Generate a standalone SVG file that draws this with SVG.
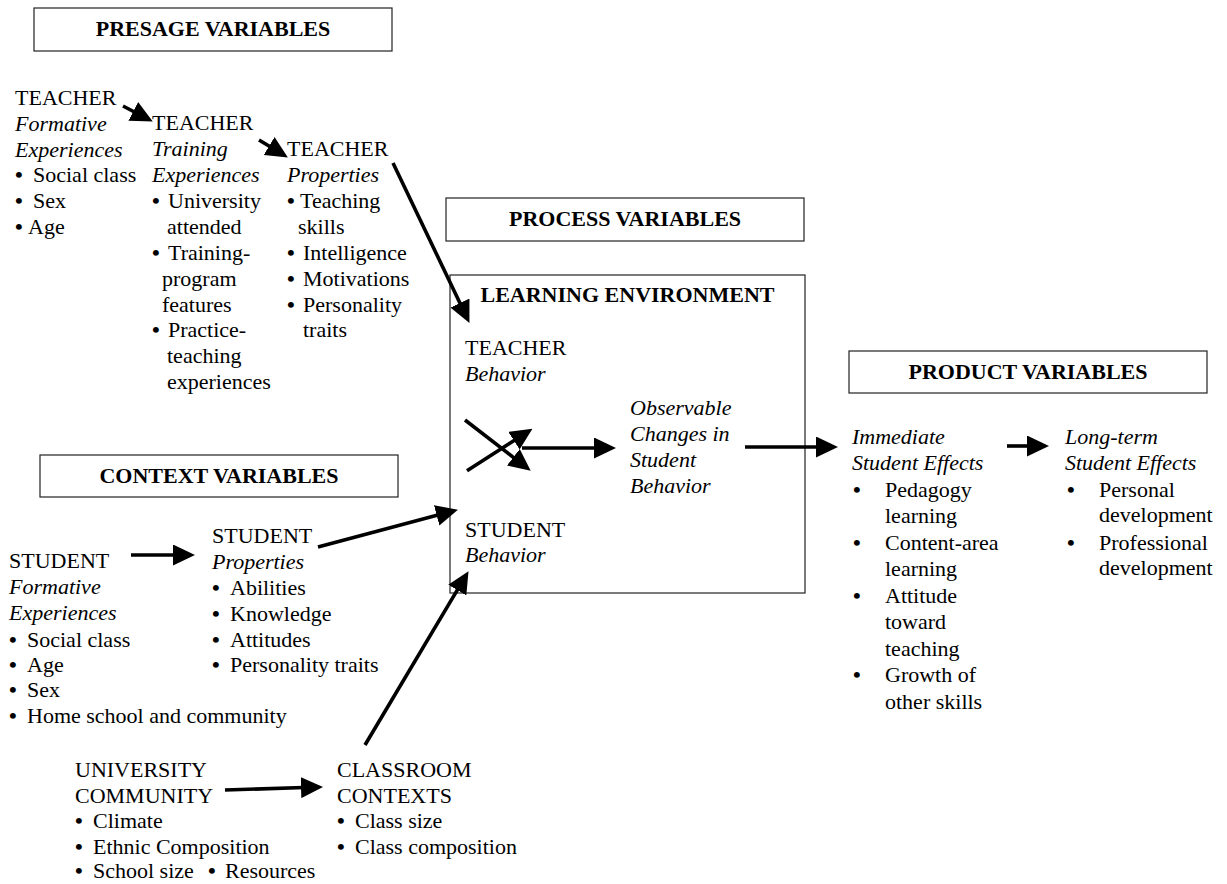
<svg xmlns="http://www.w3.org/2000/svg" width="1227" height="884" viewBox="0 0 1227 884">
<style>
text{font-family:"Liberation Serif","Times New Roman",serif;font-size:22px;fill:#000}
.i{font-style:italic}
.b{font-weight:bold}
.c{text-anchor:middle}
.u{font-weight:bold}
.box{fill:#fff;stroke:#222;stroke-width:1.2}
.arr{stroke:#000;stroke-width:3.6;fill:none;marker-end:url(#ah)}
</style>
<defs>
<marker id="ah" markerUnits="userSpaceOnUse" markerWidth="22" markerHeight="21" refX="11" refY="10.5" orient="auto" viewBox="0 0 22 21">
<path d="M0,0 L22,10.5 L0,21 z" fill="#000"/>
</marker>
</defs>
<rect width="1227" height="884" fill="#fff"/>

<g id="presage-title">
<rect class="box" x="34" y="8" width="358" height="43"/>
<text class="b c" x="213" y="36">PRESAGE VARIABLES</text>
</g>

<g id="teacher-formative">
<text x="15" y="105">TEACHER</text>
<text class="i" x="15" y="131">Formative</text>
<text class="i" x="15" y="157">Experiences</text>
<text y="182"><tspan class="u" x="15">•</tspan><tspan x="33">Social class</tspan></text>
<text y="208"><tspan class="u" x="15">•</tspan><tspan x="33">Sex</tspan></text>
<text y="234"><tspan class="u" x="15">•</tspan><tspan x="28">Age</tspan></text>
</g>

<g id="teacher-training">
<text x="152" y="130">TEACHER</text>
<text class="i" x="152" y="156">Training</text>
<text class="i" x="152" y="182">Experiences</text>
<text y="208"><tspan class="u" x="152">•</tspan><tspan x="168">University</tspan></text>
<text x="167" y="234">attended</text>
<text y="260"><tspan class="u" x="152">•</tspan><tspan x="168">Training-</tspan></text>
<text x="162" y="286">program</text>
<text x="162" y="312">features</text>
<text y="337"><tspan class="u" x="152">•</tspan><tspan x="168">Practice-</tspan></text>
<text x="167" y="363">teaching</text>
<text x="167" y="389">experiences</text>
</g>

<g id="teacher-properties">
<text x="287" y="156">TEACHER</text>
<text class="i" x="287" y="182">Properties</text>
<text y="208"><tspan class="u" x="287">•</tspan><tspan x="300">Teaching</tspan></text>
<text x="298" y="234">skills</text>
<text y="260"><tspan class="u" x="287">•</tspan><tspan x="303">Intelligence</tspan></text>
<text y="286"><tspan class="u" x="287">•</tspan><tspan x="303">Motivations</tspan></text>
<text y="312"><tspan class="u" x="287">•</tspan><tspan x="303">Personality</tspan></text>
<text x="303" y="337">traits</text>
</g>

<g id="process-title">
<rect class="box" x="446" y="198" width="358" height="43"/>
<text class="b c" x="625" y="226">PROCESS VARIABLES</text>
</g>

<g id="learning-environment">
<rect class="box" x="450" y="275" width="355" height="318"/>
<text class="b c" x="627.5" y="302">LEARNING ENVIRONMENT</text>
<text x="465" y="355">TEACHER</text>
<text class="i" x="465" y="381">Behavior</text>
<text class="i" x="630" y="415">Observable</text>
<text class="i" x="630" y="441">Changes in</text>
<text class="i" x="630" y="467">Student</text>
<text class="i" x="630" y="493">Behavior</text>
<text x="465" y="537">STUDENT</text>
<text class="i" x="465" y="562">Behavior</text>
</g>

<g id="product-title">
<rect class="box" x="849" y="351" width="358" height="42"/>
<text class="b c" x="1028" y="379">PRODUCT VARIABLES</text>
</g>

<g id="immediate-effects">
<text class="i" x="852" y="444">Immediate</text>
<text class="i" x="852" y="470">Student Effects</text>
<text y="497"><tspan class="u" x="853">•</tspan><tspan x="885">Pedagogy</tspan></text>
<text x="885" y="523">learning</text>
<text y="550"><tspan class="u" x="853">•</tspan><tspan x="885">Content-area</tspan></text>
<text x="885" y="576">learning</text>
<text y="603"><tspan class="u" x="853">•</tspan><tspan x="885">Attitude</tspan></text>
<text x="885" y="629">toward</text>
<text x="885" y="656">teaching</text>
<text y="682"><tspan class="u" x="853">•</tspan><tspan x="885">Growth of</tspan></text>
<text x="885" y="709">other skills</text>
</g>

<g id="longterm-effects">
<text class="i" x="1065" y="444">Long-term</text>
<text class="i" x="1065" y="470">Student Effects</text>
<text y="497"><tspan class="u" x="1067">•</tspan><tspan x="1099">Personal</tspan></text>
<text x="1099" y="522">development</text>
<text y="550"><tspan class="u" x="1067">•</tspan><tspan x="1099">Professional</tspan></text>
<text x="1099" y="575">development</text>
</g>

<g id="context-title">
<rect class="box" x="40" y="455" width="358" height="42"/>
<text class="b c" x="219" y="483">CONTEXT VARIABLES</text>
</g>

<g id="student-formative">
<text x="9" y="568">STUDENT</text>
<text class="i" x="9" y="594">Formative</text>
<text class="i" x="9" y="620">Experiences</text>
<text y="647"><tspan class="u" x="9">•</tspan><tspan x="27">Social class</tspan></text>
<text y="672"><tspan class="u" x="9">•</tspan><tspan x="27">Age</tspan></text>
<text y="697"><tspan class="u" x="9">•</tspan><tspan x="27">Sex</tspan></text>
<text y="723"><tspan class="u" x="9">•</tspan><tspan x="27">Home school and community</tspan></text>
</g>

<g id="student-properties">
<text x="212" y="543">STUDENT</text>
<text class="i" x="212" y="569">Properties</text>
<text y="595"><tspan class="u" x="212">•</tspan><tspan x="230">Abilities</tspan></text>
<text y="621"><tspan class="u" x="212">•</tspan><tspan x="230">Knowledge</tspan></text>
<text y="647"><tspan class="u" x="212">•</tspan><tspan x="230">Attitudes</tspan></text>
<text y="672"><tspan class="u" x="212">•</tspan><tspan x="230">Personality traits</tspan></text>
</g>

<g id="university-community">
<text x="75" y="777">UNIVERSITY</text>
<text x="75" y="803">COMMUNITY</text>
<text y="828"><tspan class="u" x="75">•</tspan><tspan x="93">Climate</tspan></text>
<text y="854"><tspan class="u" x="75">•</tspan><tspan x="93">Ethnic Composition</tspan></text>
<text y="878"><tspan class="u" x="75">•</tspan><tspan x="93">School size</tspan><tspan class="u" x="208">•</tspan><tspan x="225">Resources</tspan></text>
</g>

<g id="classroom-contexts">
<text x="337" y="777">CLASSROOM</text>
<text x="337" y="803">CONTEXTS</text>
<text y="828"><tspan class="u" x="337">•</tspan><tspan x="355">Class size</tspan></text>
<text y="854"><tspan class="u" x="337">•</tspan><tspan x="355">Class composition</tspan></text>
</g>

<g id="connectors">
<line class="arr" x1="123" y1="106" x2="143" y2="116.5"/>
<line class="arr" x1="259" y1="140" x2="278.5" y2="151.8"/>
<line class="arr" x1="393" y1="163" x2="464.7" y2="313"/>
<line class="arr" x1="465" y1="420" x2="522" y2="464"/>
<line class="arr" x1="467" y1="470.7" x2="523.2" y2="434.7"/>
<line class="arr" x1="522" y1="448" x2="605" y2="448"/>
<line class="arr" x1="745" y1="447" x2="827" y2="447"/>
<line class="arr" x1="1007" y1="446" x2="1038" y2="446"/>
<line class="arr" x1="131" y1="555" x2="184" y2="555"/>
<line class="arr" x1="318" y1="547" x2="447.3" y2="512.6"/>
<line class="arr" x1="365" y1="745" x2="462.9" y2="580.6"/>
<line class="arr" x1="225" y1="790" x2="312" y2="787.3"/>
</g>
</svg>
